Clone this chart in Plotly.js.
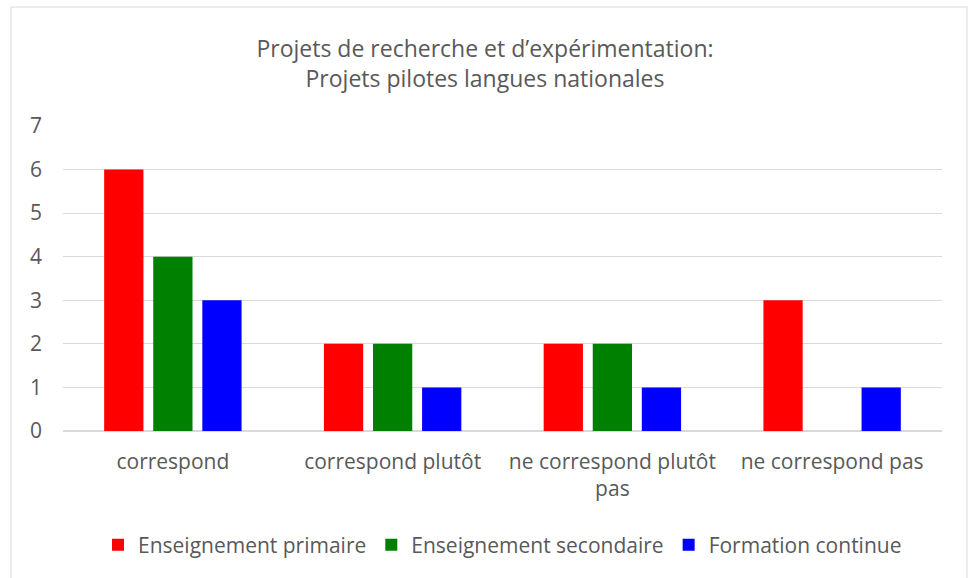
<!DOCTYPE html>
<html><head><meta charset="utf-8">
<script src="https://cdn.plot.ly/plotly-3.0.1.min.js"></script>
<style>html,body{margin:0;padding:0;background:#fff;}#chart{width:970px;height:578px;}</style>
</head><body><div id="chart"></div>
<script>
const categories = ["correspond", "correspond plutôt", "ne correspond plutôt<br>pas", "ne correspond pas"];
const seriesNames = ["Enseignement primaire", "Enseignement secondaire", "Formation continue"];
const primaire = [6, 2, 2, 3];
const secondaire = [4, 2, 2, 0];
const formation = [3, 1, 1, 1];
const colors = ["#ff0000", "#008000", "#0000ff"];
const values = [primaire, secondaire, formation];

const traces = values.map((v, i) => ({
  type: 'bar', x: categories, y: v, name: seriesNames[i],
  marker: {color: colors[i]}, hoverinfo: 'x+y+name'
}));

const L = 63, R = 942, T = 126, B = 431;
const pw = R - L, ph = B - T;
const layout = {
  width: 970, height: 578,
  margin: {l: L, r: 970 - R, t: T, b: 578 - B},
  paper_bgcolor: '#fff', plot_bgcolor: '#fff',
  font: {family: '"Open Sans", sans-serif', color: '#595959', size: 21},
  title: {text: "Projets de recherche et d’expérimentation:<br>Projets pilotes langues nationales",
    x: 0.5, xanchor: 'center', y: 1 - 57/578, yanchor: 'middle',
    font: {size: 23, color: '#595959'}},
  barmode: 'group', bargap: 0.33, bargroupgap: 0.2,
  xaxis: {showgrid: false, showline: false, zeroline: false, ticks: '', ticklabelstandoff: 16,
    tickfont: {size: 21, color: '#595959'}, fixedrange: true},
  yaxis: {range: [0, 7], dtick: 1, tick0: 0, showgrid: true, gridcolor: '#d9d9d9', gridwidth: 1,
    zeroline: true, zerolinecolor: '#d9d9d9', zerolinewidth: 1.5, showline: false, ticks: '',
    ticklabelstandoff: 20, tickfont: {size: 21, color: '#595959'}, fixedrange: true},
  legend: {orientation: 'h', x: 0.5, xanchor: 'center', y: (B - 545) / ph, yanchor: 'middle',
    font: {size: 21, color: '#595959'}, itemwidth: 30, traceorder: 'normal'},
  shapes: [{type: 'rect', xref: 'paper', yref: 'paper', layer: 'below',
    x0: (11 - L) / pw, x1: (967 - L) / pw, y0: (B - 590) / ph, y1: (B - 7) / ph,
    line: {color: '#d9d9d9', width: 1}, fillcolor: 'rgba(0,0,0,0)'}],
  showlegend: true
};
Plotly.newPlot('chart', traces, layout, {displayModeBar: false, staticPlot: true});
</script></body></html>
